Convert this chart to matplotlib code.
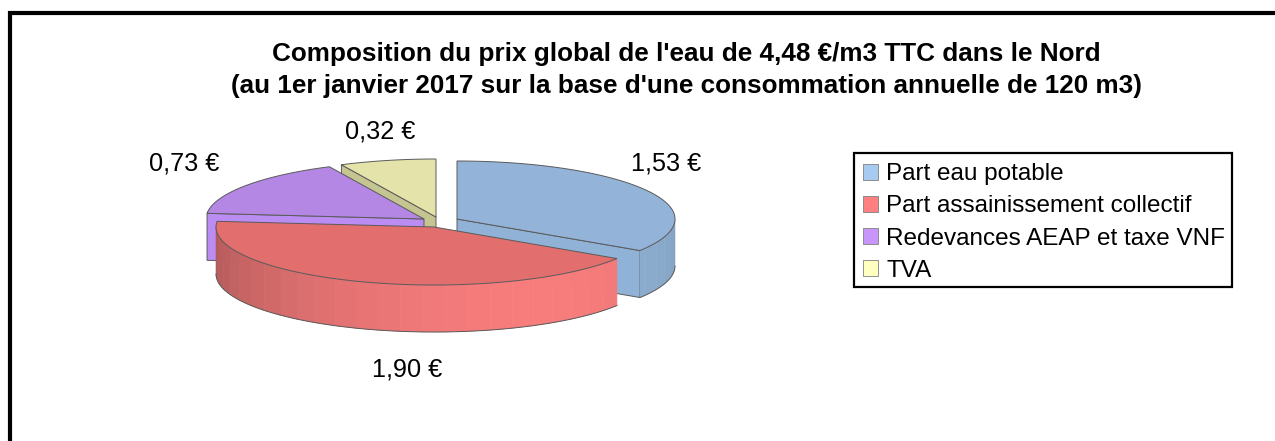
"""Plot composition of the water price as an exploded 3D-look pie."""

import numpy
import matplotlib
matplotlib.use('Agg')
import matplotlib.pyplot as plt
from matplotlib.patches import Patch, Polygon, Rectangle

plt.rcParams['font.family'] = ['Liberation Sans', 'DejaVu Sans']

TITLE = ("Composition du prix global de l'eau de 4,48 €/m3 TTC dans le Nord\n"
         "(au 1er janvier 2017 sur la base d'une consommation annuelle de 120 m3)")
names = ['Part eau potable', 'Part assainissement collectif',
         'Redevances AEAP et taxe VNF', 'TVA']
values = [1.53, 1.90, 0.73, 0.32]

base_colors = ['#a6caf0', '#ff8080', '#c896fa', '#ffffc0']
wall_colors = ['#94b6da', '#ff8080', '#c896fa', '#ffffc0']
top_colors = ['#93b4d8', '#e26e6e', '#b387e3', '#e4e4aa']
cut_colors = ['#90b2d6', '#e26e6e', '#bb8cf2', '#c5c592']
# where each exploded slice has its apex, in pixels
apexes = [(457, 219), (434, 227), (424, 219), (436, 217)]
label_pos = [(666, 163.5), (407, 369.5), (184, 164), (380, 132)]
RX, RY, DEPTH = 218, 58, 47
LINE = '#5a5a5a'


def rim(apex, angles):
    """Return rim points for clockwise angles (degrees from 12 o'clock)."""
    t = numpy.radians(angles)
    return apex[0] + RX * numpy.sin(t), apex[1] - RY * numpy.cos(t)


def shade(color, angle):
    """Darken a wall color, brightest at the lower right."""
    rgb = numpy.array(matplotlib.colors.to_rgb(color))
    return tuple(rgb * (0.97 - 0.187 * (1 - numpy.cos(numpy.radians(angle - 150)))))


def draw_slice(ax, apex, start, stop, wall, top, cut):
    edge = dict(edgecolor=LINE, linewidth=0.7)
    # straight cut faces, only those turned to the viewer
    visible = []
    if 180 < start < 360:
        visible.append(start)
    if 0 < stop < 180:
        visible.append(stop)
    for angle in visible:
        x, y = rim(apex, angle)
        ax.add_patch(Polygon([apex, (x, y), (x, y + DEPTH),
                              (apex[0], apex[1] + DEPTH)],
                             facecolor=cut, zorder=ax.order, **edge))
    # outer wall, in narrow bands
    first, last = max(start, 90), min(stop, 270)
    if first < last:
        steps = numpy.append(numpy.arange(first, last, 6), last)
        for a, b in zip(steps[:-1], steps[1:]):
            xs, ys = rim(apex, numpy.array([a, b]))
            color = shade(wall, (a + b) / 2)
            ax.add_patch(Polygon([(xs[0], ys[0]), (xs[1], ys[1]),
                                  (xs[1], ys[1] + DEPTH), (xs[0], ys[0] + DEPTH)],
                                 facecolor=color, edgecolor=color,
                                 linewidth=0.4, zorder=ax.order))
        angles = numpy.linspace(first, last, 80)
        xs, ys = rim(apex, angles)
        ax.plot(xs, ys + DEPTH, color=LINE, lw=0.7, zorder=ax.order)
    # top face
    angles = numpy.linspace(start, stop, 120)
    xs, ys = rim(apex, angles)
    points = [apex] + list(zip(xs, ys))
    ax.add_patch(Polygon(points, facecolor=top, zorder=ax.order + 0.5, **edge))
    ax.order += 1


def main():
    fig = plt.figure(figsize=(12.75, 4.41), dpi=100)
    ax = fig.add_axes([0, 0, 1, 1])
    ax.set_xlim(0, 1275)
    ax.set_ylim(441, 0)
    ax.axis('off')
    ax.order = 2

    # outer frame, open on the right and bottom
    ax.plot([10, 10, 1275], [441, 13, 13], color='black', lw=3,
            solid_joinstyle='miter')

    ax.text(686, 70, TITLE, ha='center', va='center', fontsize=18.8,
            fontweight='bold', linespacing=1.42)

    edges = numpy.cumsum([0] + values) / sum(values) * 360
    for i in [0, 3, 2, 1]:
        draw_slice(ax, apexes[i], edges[i], edges[i + 1],
                   wall_colors[i], top_colors[i], cut_colors[i])

    for value, (x, y) in zip(values, label_pos):
        ax.text(x, y, '{0:.2f} €'.format(value).replace('.', ','),
                ha='center', va='center', fontsize=18.2)

    # legend box drawn apart so the rows can sit a little lower in it
    ax.add_patch(Rectangle((854, 153), 378, 134, facecolor='white',
                           edgecolor='black', linewidth=1.6, zorder=1))
    handles = [Patch(facecolor=c, edgecolor='#808080', linewidth=0.6)
               for c in base_colors]
    ax.legend(handles, names, loc='upper left',
              bbox_to_anchor=(854 / 1275, 1 - 154.5 / 441),
              fontsize=17.5, frameon=False, borderaxespad=0,
              handlelength=0.63, handleheight=0.63, handletextpad=0.33,
              labelspacing=0.42, borderpad=0.36)

    fig.savefig('out.png', dpi=100)


if __name__ == '__main__':
    main()
